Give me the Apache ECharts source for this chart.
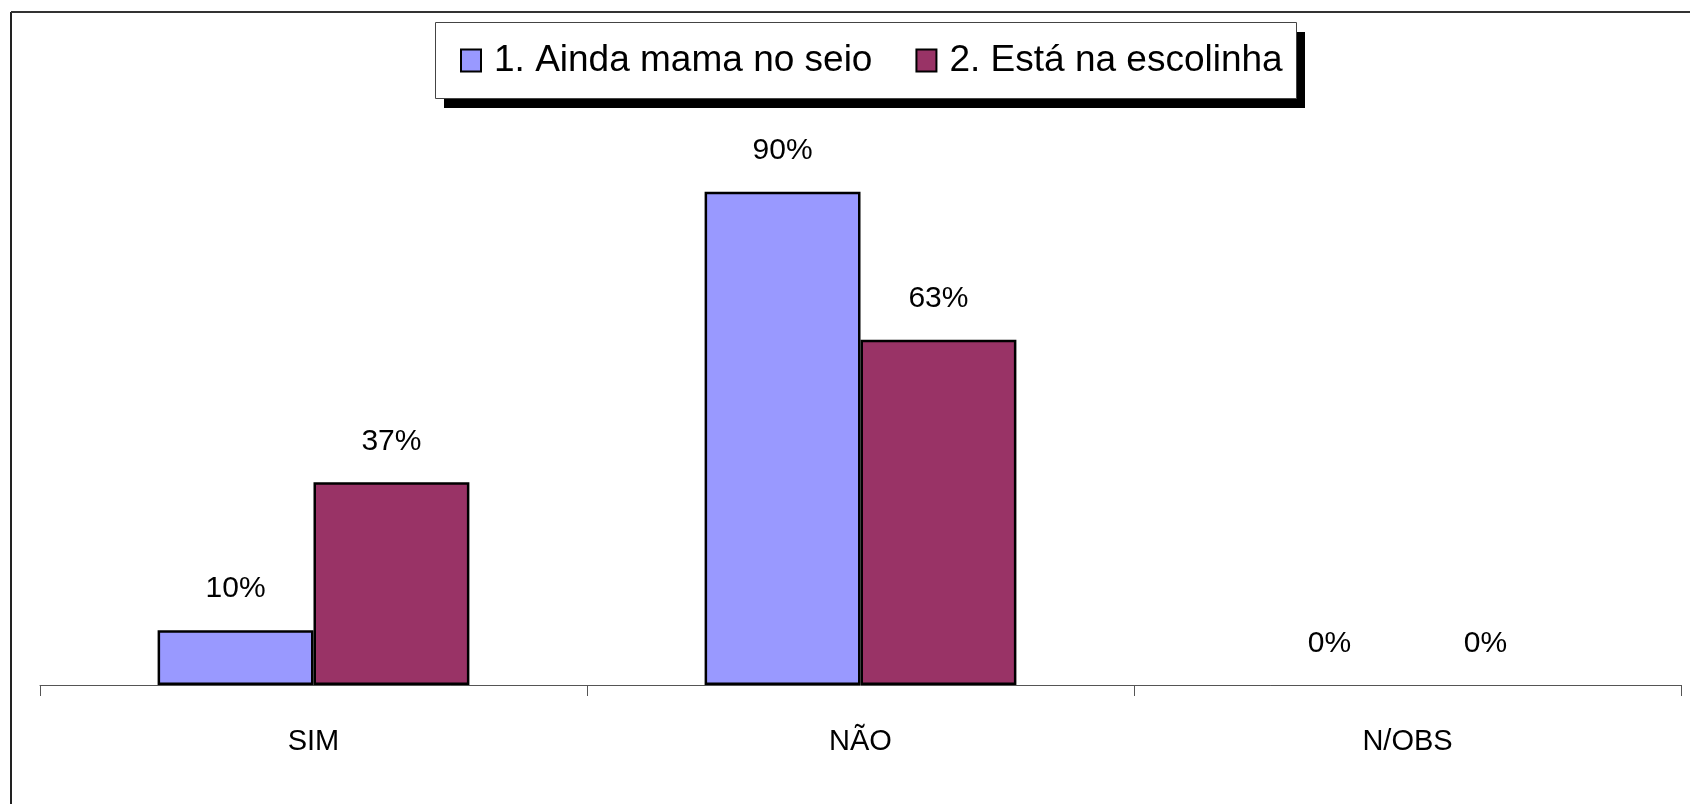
<!DOCTYPE html>
<html>
<head>
<meta charset="utf-8">
<script src="https://cdn.jsdelivr.net/npm/echarts@6/dist/echarts.min.js"></script>
<style>
  html, body { margin: 0; padding: 0; background: #fff; }
  #chart { width: 1690px; height: 804px; }
</style>
</head>
<body>
<div id="chart"></div>
<script>
const categories = ["SIM", "NÃO", "N/OBS"];
const seriesNames = ["1. Ainda mama no seio", "2. Está na escolinha"];
const mamaNoSeio = [10, 90, 0];
const escolinha = [37, 63, 0];
const colors = ["#9999FF", "#993366"];

// zero-height bars get no border so nothing shows over the axis
function toData(values) {
    return values.map(v => v === 0 ? { value: v, itemStyle: { borderWidth: 0 } } : v);
}

const font = "'Liberation Sans', Arial, sans-serif";

// legend box (drawn as graphic so the drop shadow is a plain offset block)
const legendBox = { x: 435, y: 22, w: 861, h: 76, shadow: 9 };

const chart = echarts.init(document.getElementById("chart"), null, { renderer: "canvas" });

const barLabel = {
    show: true,
    position: "top",
    distance: 26,
    formatter: "{c}%",
    fontFamily: font,
    fontSize: 30,
    color: "#000"
};

chart.setOption({
    animation: false,
    backgroundColor: "#fff",
    grid: { left: 40, right: 9, top: 137, bottom: 119 },
    legend: {
        data: seriesNames,
        left: legendBox.x,
        top: legendBox.y,
        orient: "horizontal",
        icon: "rect",
        padding: [20, 13, 20, 25],
        itemGap: 43,
        itemWidth: 20,
        itemHeight: 22,
        itemStyle: { borderColor: "#000", borderWidth: 2 },
        textStyle: {
            fontFamily: font,
            fontSize: 37,
            lineHeight: 36,
            color: "#000",
            padding: [0, 0, 0, 8]
        }
    },
    xAxis: {
        type: "category",
        data: categories,
        axisLine: { lineStyle: { color: "#555", width: 1 } },
        axisTick: { show: true, length: 11, lineStyle: { color: "#555" } },
        axisLabel: { fontFamily: font, fontSize: 29, color: "#000", margin: 42 }
    },
    yAxis: {
        type: "value",
        min: 0,
        max: 100,
        show: false,
        splitLine: { show: false }
    },
    series: [
        {
            name: seriesNames[0],
            type: "bar",
            data: toData(mamaNoSeio),
            barGap: "0%",
            barCategoryGap: "43%",
            itemStyle: { color: colors[0], borderColor: "#000", borderWidth: 2.5 },
            label: barLabel
        },
        {
            name: seriesNames[1],
            type: "bar",
            data: toData(escolinha),
            barGap: "0%",
            barCategoryGap: "43%",
            itemStyle: { color: colors[1], borderColor: "#000", borderWidth: 2.5 },
            label: barLabel
        }
    ],
    graphic: [
        // outer frame: only the left and top edges are visible in the original
        { type: "line", shape: { x1: 11, y1: 12, x2: 11, y2: 804 }, style: { stroke: "#222", lineWidth: 2 } },
        { type: "line", shape: { x1: 11, y1: 12, x2: 1690, y2: 12 }, style: { stroke: "#333", lineWidth: 2 } },
        {
            type: "rect", z: -1,
            shape: { x: legendBox.x + legendBox.shadow, y: legendBox.y + legendBox.shadow + 1, width: legendBox.w, height: legendBox.h },
            style: { fill: "#000" }
        },
        {
            type: "rect", z: 0,
            shape: { x: legendBox.x + 0.5, y: legendBox.y + 0.5, width: legendBox.w, height: legendBox.h },
            style: { fill: "#fff", stroke: "#444", lineWidth: 1 }
        }
    ]
});
</script>
</body>
</html>
